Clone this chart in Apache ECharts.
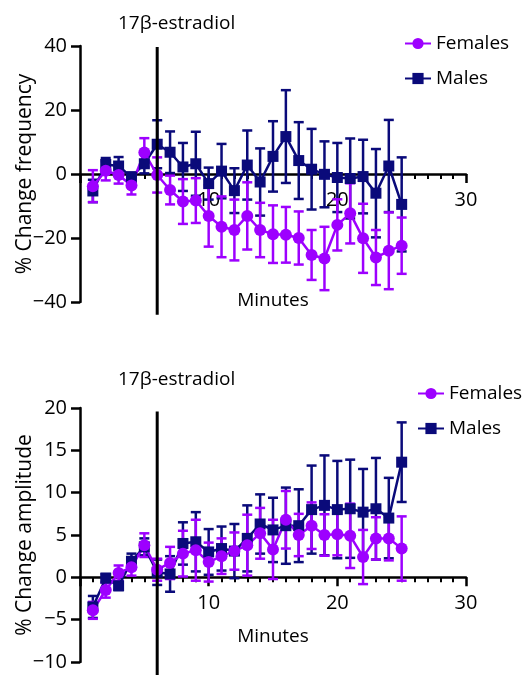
<!DOCTYPE html>
<html>
<head>
<meta charset="utf-8">
<script src="https://cdn.jsdelivr.net/npm/echarts@6/dist/echarts.min.js"></script>
<style>
  html, body { margin: 0; padding: 0; background: #fff; }
  #main { width: 524px; height: 675px; }
</style>
</head>
<body>
<div id="main"></div>
<script>
// minutes of recording
var minutes = [1, 2, 3, 4, 5, 6, 7, 8, 9, 10, 11, 12, 13, 14, 15, 16, 17, 18, 19, 20, 21, 22, 23, 24, 25];
var drugTime = 6;

// % change frequency (mean, SEM)
var femFreq = [-3.8, 1.0, -0.3, -3.6, 6.7, -0.3, -5.0, -8.6, -8.3, -13.1, -16.5, -17.5, -13.1, -17.5, -18.8, -19.0, -20.0, -25.3, -26.4, -15.9, -12.3, -20.1, -26.1, -24.0, -22.4];
var femFreqSem = [5.0, 3.0, 2.7, 2.8, 4.5, 5.5, 4.5, 7.0, 7.0, 9.6, 9.5, 9.5, 10.5, 8.5, 9.0, 8.7, 8.3, 7.8, 9.9, 8.0, 9.4, 10.8, 8.6, 12.0, 8.8];
var maleFreq = [-5.3, 3.0, 2.5, -1.0, 3.2, 9.3, 6.8, 2.2, 3.2, -3.0, 0.9, -5.2, 2.8, -2.5, 5.5, 11.7, 4.2, 1.5, -0.1, -1.1, -1.4, -0.8, -6.0, 2.5, -9.5];
var maleFreqSem = [3.5, 2.0, 2.8, 1.5, 3.0, 7.5, 6.5, 7.5, 10.0, 5.0, 8.5, 7.0, 10.8, 10.5, 11.0, 14.5, 12.0, 12.6, 10.3, 10.8, 12.5, 11.5, 13.8, 14.4, 14.7];

// % change amplitude (mean, SEM)
var femAmp = [-3.9, -1.5, 0.5, 1.2, 3.8, 0.9, 1.7, 2.8, 3.2, 1.8, 2.5, 3.1, 3.8, 5.2, 3.3, 6.8, 5.0, 6.1, 5.0, 5.1, 4.9, 2.4, 4.6, 4.6, 3.4];
var femAmpSem = [1.0, 0.9, 0.9, 1.0, 1.4, 1.3, 1.9, 2.7, 3.6, 2.3, 2.1, 2.2, 3.6, 3.0, 3.5, 3.4, 2.5, 2.75, 2.45, 2.5, 3.8, 3.2, 2.5, 2.6, 3.8];
var maleAmp = [-3.5, -0.1, -1.0, 1.9, 3.6, 0.6, 0.4, 4.0, 4.2, 3.0, 3.4, 3.1, 4.6, 6.3, 5.6, 6.1, 6.1, 8.0, 8.5, 8.0, 8.1, 7.7, 8.1, 7.0, 13.6];
var maleAmpSem = [1.3, 0.5, 0.5, 0.9, 1.0, 1.5, 2.1, 2.5, 3.5, 2.7, 2.6, 3.2, 3.9, 3.5, 3.8, 4.5, 4.3, 5.2, 5.9, 5.75, 5.8, 5.1, 6.0, 4.75, 4.7];

var FEM = '#9d00ff';
var MALE = '#0a0a7a';
var FONT = 'Open Sans';

var grids = [
	{ left: 80, top: 46, width: 386, height: 256, yMin: -40, yMax: 40, yStep: 20, lineSpan: [39.7, -44] },
	{ left: 80, top: 408, width: 386, height: 254, yMin: -10, yMax: 20, yStep: 5, lineSpan: [19.6, -12] }
];

function pts(vals) {
	return minutes.map(function (m, i) { return [m, vals[i]]; });
}
function bars(vals, sem) {
	return minutes.map(function (m, i) { return [m, vals[i] - sem[i], vals[i] + sem[i]]; });
}

function errorSeries(name, idx, data, color) {
	return {
		name: name,
		type: 'custom',
		xAxisIndex: idx,
		yAxisIndex: idx,
		data: data,
		renderItem: function (params, api) {
			var lo = api.coord([api.value(0), api.value(1)]);
			var hi = api.coord([api.value(0), api.value(2)]);
			var w = 5;
			var st = { stroke: color, lineWidth: 2.5 };
			return {
				type: 'group',
				children: [
					{ type: 'line', shape: { x1: lo[0], y1: lo[1], x2: hi[0], y2: hi[1] }, style: st },
					{ type: 'line', shape: { x1: lo[0] - w, y1: lo[1], x2: lo[0] + w, y2: lo[1] }, style: st },
					{ type: 'line', shape: { x1: hi[0] - w, y1: hi[1], x2: hi[0] + w, y2: hi[1] }, style: st }
				]
			};
		}
	};
}

// 17β-estradiol application, drawn a little past the axis bottom
function drugLine(idx) {
	var span = grids[idx].lineSpan;
	return {
		name: 'drug',
		type: 'custom',
		xAxisIndex: idx,
		yAxisIndex: idx,
		clip: false,
		silent: true,
		z: 5,
		data: [[drugTime, span[0], span[1]]],
		renderItem: function (params, api) {
			var a = api.coord([api.value(0), api.value(1)]);
			var b = api.coord([api.value(0), api.value(2)]);
			return {
				type: 'line',
				shape: { x1: a[0], y1: a[1], x2: b[0], y2: b[1] },
				style: { stroke: '#000', lineWidth: 3 }
			};
		}
	};
}

function lineSeries(name, idx, data, color, symbol, size) {
	return {
		name: name,
		type: 'line',
		xAxisIndex: idx,
		yAxisIndex: idx,
		data: data,
		symbol: symbol,
		symbolSize: size,
		clip: false,
		itemStyle: { color: color },
		lineStyle: { color: color, width: 2.5 }
	};
}

function xAxisOf(idx) {
	var g = grids[idx];
	// x axis crosses at y = 0
	var zeroShift = -g.height * (0 - g.yMin) / (g.yMax - g.yMin);
	return {
		type: 'value',
		gridIndex: idx,
		min: 0, max: 30, interval: 10,
		offset: zeroShift,
		name: 'Minutes',
		nameLocation: 'middle',
		nameGap: idx === 0 ? 117 : 50,
		nameMoveOverlap: false,
		nameTextStyle: { fontFamily: FONT, fontSize: 19, color: '#000' },
		axisLine: { onZero: false, lineStyle: { color: '#000', width: 2.5 } },
		axisTick: { length: 9, lineStyle: { color: '#000', width: 2.5 } },
		minorTick: { show: true, splitNumber: 10, length: 5, lineStyle: { color: '#000', width: 2 } },
		axisLabel: {
			fontFamily: FONT, fontSize: 20, color: '#000', margin: 16,
			formatter: function (v) { return v === 0 ? '' : v; }
		},
		splitLine: { show: false }
	};
}

function yAxisOf(idx, name) {
	var g = grids[idx];
	return {
		type: 'value',
		gridIndex: idx,
		min: g.yMin, max: g.yMax, interval: g.yStep,
		name: name,
		nameLocation: 'middle',
		nameGap: 44,
		nameMoveOverlap: false,
		nameTextStyle: { fontFamily: FONT, fontSize: 21, color: '#000' },
		axisLine: { show: true, onZero: false, lineStyle: { color: '#000', width: 2.5 } },
		axisTick: { show: true, length: 9, lineStyle: { color: '#000', width: 2.5 } },
		axisLabel: {
			fontFamily: FONT, fontSize: 20, color: '#000', margin: 13,
			formatter: function (v) { return String(v).replace('-', '\u2212'); }
		},
		splitLine: { show: false }
	};
}

var myChart = echarts.init(document.getElementById('main'));

var option = {
	animation: false,
	title: [
		{ text: '17\u03b2-estradiol', left: 113, top: 9, textStyle: { fontFamily: FONT, fontSize: 19, fontWeight: 'normal', color: '#000' } },
		{ text: '17\u03b2-estradiol', left: 113, top: 365, textStyle: { fontFamily: FONT, fontSize: 19, fontWeight: 'normal', color: '#000' } }
	],
	legend: [
		{
			orient: 'vertical', left: 399, top: 29, itemWidth: 26, itemHeight: 14, itemGap: 16,
			data: ['Females', 'Males'],
			textStyle: { fontFamily: FONT, fontSize: 19, color: '#000' }
		},
		{
			orient: 'vertical', left: 412, top: 379, itemWidth: 26, itemHeight: 14, itemGap: 16,
			data: ['Females', 'Males'],
			textStyle: { fontFamily: FONT, fontSize: 19, color: '#000' }
		}
	],
	grid: grids.map(function (g) {
		return { left: g.left, top: g.top, width: g.width, height: g.height, containLabel: false, outerBoundsMode: 'none' };
	}),
	xAxis: [xAxisOf(0), xAxisOf(1)],
	yAxis: [
		yAxisOf(0, '% Change frequency'),
		yAxisOf(1, '% Change amplitude')
	],
	series: [
		errorSeries('Males SEM f', 0, bars(maleFreq, maleFreqSem), MALE),
		lineSeries('Males', 0, pts(maleFreq), MALE, 'rect', 11),
		errorSeries('Females SEM f', 0, bars(femFreq, femFreqSem), FEM),
		lineSeries('Females', 0, pts(femFreq), FEM, 'circle', 12),
		drugLine(0),
		errorSeries('Males SEM a', 1, bars(maleAmp, maleAmpSem), MALE),
		lineSeries('Males', 1, pts(maleAmp), MALE, 'rect', 11),
		errorSeries('Females SEM a', 1, bars(femAmp, femAmpSem), FEM),
		lineSeries('Females', 1, pts(femAmp), FEM, 'circle', 12),
		drugLine(1)
	]
};

myChart.setOption(option);
</script>
</body>
</html>
